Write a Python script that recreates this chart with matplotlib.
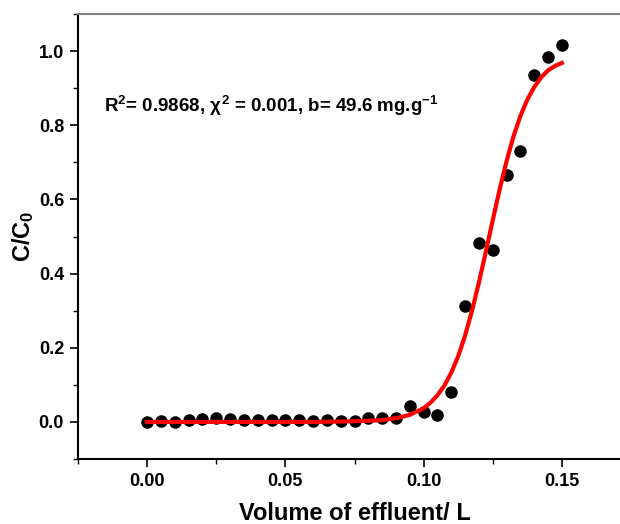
import numpy as np
import matplotlib
matplotlib.use('Agg')
import matplotlib.pyplot as plt
from matplotlib.ticker import MultipleLocator

plt.rcParams['font.family'] = ['Liberation Sans', 'DejaVu Sans']
plt.rcParams['font.weight'] = 'bold'
plt.rcParams['mathtext.fontset'] = 'custom'
plt.rcParams['mathtext.rm'] = 'Liberation Sans:bold'
plt.rcParams['mathtext.it'] = 'Liberation Sans:bold'
plt.rcParams['mathtext.bf'] = 'Liberation Sans:bold'

# experimental breakthrough points
volume = [0.000, 0.005, 0.010, 0.015, 0.020, 0.025, 0.030, 0.035, 0.040, 0.045,
          0.050, 0.055, 0.060, 0.065, 0.070, 0.075, 0.080, 0.085, 0.090, 0.095,
          0.100, 0.105, 0.110, 0.115, 0.120, 0.125, 0.130, 0.135, 0.140, 0.145,
          0.150]
c_ratio = [0.000, 0.003, 0.001, 0.005, 0.007, 0.010, 0.007, 0.005, 0.005, 0.005,
           0.006, 0.005, 0.003, 0.004, 0.003, 0.003, 0.010, 0.010, 0.010, 0.043,
           0.027, 0.019, 0.081, 0.313, 0.482, 0.464, 0.666, 0.730, 0.935, 0.984,
           1.016]

# fitted curve
fit_x = [0.000, 0.020, 0.040, 0.060, 0.070, 0.080, 0.085, 0.090, 0.095, 0.100,
         0.1025, 0.105, 0.1075, 0.110, 0.1125, 0.115, 0.1175, 0.120, 0.1225,
         0.125, 0.1275, 0.130, 0.1325, 0.135, 0.1375, 0.140, 0.1425, 0.145,
         0.1475, 0.150]
fit_y = [0.000, 0.000, 0.000, 0.000, 0.001, 0.003, 0.005, 0.010, 0.019, 0.037,
         0.052, 0.072, 0.098, 0.133, 0.177, 0.233, 0.300, 0.376, 0.459,
         0.544, 0.627, 0.703, 0.770, 0.825, 0.869, 0.903, 0.929, 0.948,
         0.960, 0.968]

fig = plt.figure(figsize=(6.2, 5.24), dpi=100)
ax = fig.add_axes([78 / 620, 65 / 524, 553 / 620, 445 / 524])

ax.plot(volume, c_ratio, 'o', color='black', markersize=8, zorder=2)
ax.plot(fit_x, fit_y, '-', color='#ff0000', linewidth=3, zorder=3)

ax.set_xlim(-0.025, 0.175)
ax.set_ylim(-0.1, 1.1)
ax.xaxis.set_major_locator(MultipleLocator(0.05))
ax.xaxis.set_minor_locator(MultipleLocator(0.025))
ax.yaxis.set_major_locator(MultipleLocator(0.2))
ax.yaxis.set_minor_locator(MultipleLocator(0.1))
ax.xaxis.set_major_formatter(plt.FormatStrFormatter('%.2f'))
ax.yaxis.set_major_formatter(plt.FormatStrFormatter('%.1f'))

ax.tick_params(which='major', direction='out', length=6, width=1.2, labelsize=13, pad=4)
ax.tick_params(which='minor', direction='out', length=3.5, width=1.0)
ax.tick_params(top=False, right=False, which='both')

for s in ['left', 'bottom']:
    ax.spines[s].set_linewidth(1.5)
ax.spines['top'].set_color('#808080')
ax.spines['top'].set_linewidth(1.5)
ax.spines['right'].set_visible(False)

ax.set_xlabel('Volume of effluent/ L', fontsize=17, fontweight='bold', labelpad=9)
ax.set_ylabel(r'C/C$_0$', fontsize=17, fontweight='bold', labelpad=2)

ax.text(0.047, 0.78, r'R$^2$= 0.9868, $\chi^2$ = 0.001, b= 49.6 mg.g$^{-1}$',
        transform=ax.transAxes, fontsize=13.5, fontweight='bold')

fig.savefig('out.png', dpi=100)
